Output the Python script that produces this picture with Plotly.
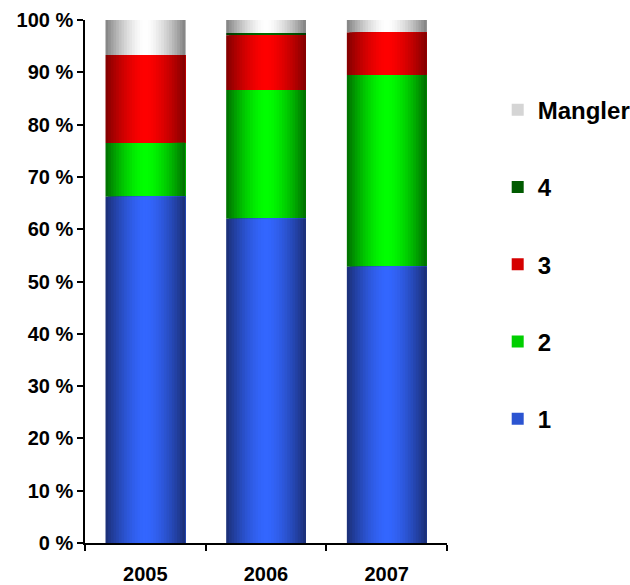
import plotly.graph_objects as go

years = ['2005', '2006', '2007']
series = ['1', '2', '3', '4', 'Mangler']
v1 = [66.2, 62.0, 52.8]
v2 = [10.3, 24.6, 36.7]
v3 = [16.8, 10.5, 8.1]
v4 = [0.0, 0.4, 0.0]
mangler = [6.7, 2.5, 2.4]
values = [v1, v2, v3, v4, mangler]
tick_vals = list(range(0, 101, 10))
tick_text = ['%d %%' % t for t in tick_vals]

# (edge colour, centre colour) for the horizontal shading of each series
shades = [
    ((0x1b, 0x2e, 0x74), (0x33, 0x66, 0xff)),
    ((0x00, 0x6c, 0x00), (0x00, 0xff, 0x00)),
    ((0x80, 0x00, 0x00), (0xff, 0x00, 0x00)),
    ((0x00, 0x3a, 0x00), (0x00, 0x6a, 0x00)),
    ((0x80, 0x80, 0x80), (0xff, 0xff, 0xff)),
]

def mix(edge, centre, t):
    f = 1 - abs(2 * t - 1) ** 1.6
    return 'rgb(%d,%d,%d)' % tuple(round(e + (c - e) * f) for e, c in zip(edge, centre))

# stack bases
bases = []
base = [0, 0, 0]
for vals in values:
    bases.append(base)
    base = [b + v for b, v in zip(base, vals)]

font = 'Liberation Sans, Arial, sans-serif'
bar_w = 0.66
n = 30
fig = go.Figure()
# added top series first so the legend reads Mangler, 4, 3, 2, 1
for i in reversed(range(len(series))):
    name, vals, (edge, centre) = series[i], values[i], shades[i]
    for k in range(n):
        # each strip runs from its own left edge to the right edge of the bar,
        # later strips cover earlier ones so there are no seams
        left = k * bar_w / n
        fig.add_trace(go.Bar(
            x=years, y=vals, base=bases[i],
            width=bar_w - left, offset=-bar_w / 2 + left,
            marker=dict(color=mix(edge, centre, (k + 0.5) / n), line=dict(width=0)),
            name=name, legendgroup=name,
            showlegend=(k == n // 4),
            hoverinfo='skip',
        ))

fig.update_layout(
    width=630, height=585,
    barmode='overlay',
    plot_bgcolor='white', paper_bgcolor='white',
    margin=dict(l=85, r=183, t=20, b=42),
    font=dict(family=font, size=20, color='black', weight='bold'),
    legend=dict(
        # container coords so the legend doesn't push the right margin
        xref='container', yref='container',
        x=0.79, xanchor='left', y=0.85, yanchor='top',
        tracegroupgap=43, maxheight=470,
        font=dict(family=font, size=24, color='black', weight='bold'),
    ),
)
fig.update_yaxes(
    range=[0, 100], tickvals=tick_vals, ticktext=tick_text,
    showline=True, linecolor='black', linewidth=1.5,
    ticks='outside', ticklen=6, tickcolor='black', tickwidth=1.5,
    showgrid=False, zeroline=False, automargin=False,
    tickfont=dict(family=font, size=20, color='black', weight='bold'),
)
fig.update_xaxes(
    range=[-0.5, 2.5], tickson='boundaries',
    showline=True, linecolor='black', linewidth=1.5,
    ticks='outside', ticklen=6, tickcolor='black', tickwidth=1.5,
    showgrid=False, automargin=False, ticklabelstandoff=12,
    tickfont=dict(family=font, size=20, color='black', weight='bold'),
)

# the page body has an 8px default margin, drop it so the figure sits at 0,0
fig.write_html("out.html", config={'displayModeBar': False},
               post_script="document.body.style.margin='0';")
